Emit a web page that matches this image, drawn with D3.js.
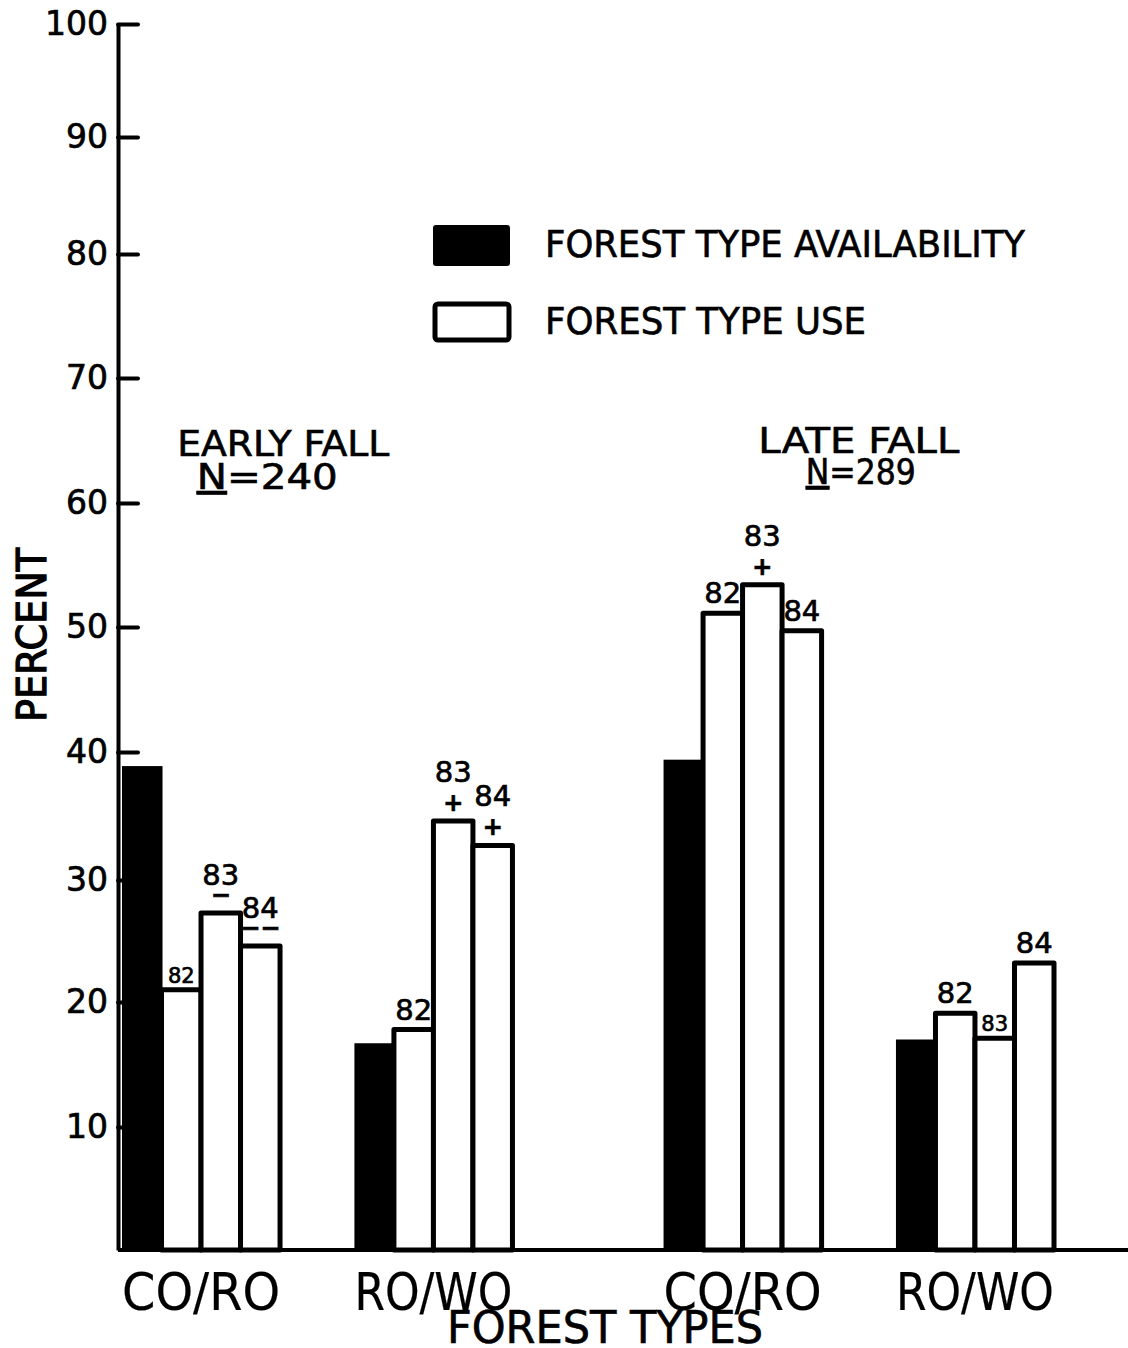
<!DOCTYPE html>
<html>
<head>
<meta charset="utf-8">
<script src="https://cdn.jsdelivr.net/npm/d3@7"></script>
<style>
  body { margin: 0; background: #fff; }
  svg { display: block; background: #fff; }
  text { fill: #000; }
  .word { font-family: "DejaVu Sans Condensed", "DejaVu Sans", sans-serif; font-stretch: condensed; stroke: #000; stroke-width: 0.6px; }
  .num { font-family: "DejaVu Sans", sans-serif; stroke: #000; stroke-width: 0.7px; }
</style>
</head>
<body>
<svg id="chart" width="1128" height="1348"></svg>
<script>
// ---- data ----
const seasons = ["EARLY FALL", "LATE FALL"];
const sampleSizes = ["240", "289"];
const forestTypes = ["CO/RO", "RO/WO"];
const useYears = ["82", "83", "84"];
// availability (%) per season, per forest type
const availability = [[38.9, 16.7], [39.4, 17.0]];
// use (%) per forest type, per year
const useEarly = [[21.0, 27.3, 24.6], [17.8, 34.6, 32.7]];
const useLate = [[51.1, 53.4, 49.7], [19.1, 17.1, 23.2]];
// selection markers printed under the year labels
const signEarly = [["", "\u2212", "\u2212\u2212"], ["", "+", "+"]];
const signLate = [["", "+", ""], ["", "", ""]];
const yTickValues = [10, 20, 30, 40, 50, 60, 70, 80, 90, 100];
const legendLabels = ["FOREST TYPE AVAILABILITY", "FOREST TYPE USE"];
const xTitle = "FOREST TYPES";
const yTitle = "PERCENT";

const useBySeason = [useEarly, useLate];
const signBySeason = [signEarly, signLate];

// ---- layout ----
const svg = d3.select("#chart");
const axisX = 118;

// hand-ruled percent axis: tick marks are not evenly spaced, so the scale is
// calibrated tick by tick
const y = d3.scaleLinear()
  .domain([0, ...yTickValues])
  .range([1250, 1127, 1002, 880, 752, 627, 503, 378, 254, 137, 24]);

const xSeason = d3.scaleBand().domain(seasons).range([122, 1054]).paddingInner(0.279);
const xType = d3.scaleBand().domain(forestTypes).range([0, xSeason.bandwidth()]).paddingInner(0.32);
const seriesKeys = ["avail", ...useYears];
const xBar = d3.scaleBand().domain(seriesKeys).range([0, xType.bandwidth()]);

// ---- y axis ----
const yAxis = d3.axisLeft(y).tickValues(yTickValues).tickSize(-20).tickSizeOuter(0).tickPadding(10)
  .tickFormat(d => String(d));
const gy = svg.append("g").attr("transform", `translate(${axisX},0)`).call(yAxis);
gy.select(".domain").attr("stroke", "#000").attr("stroke-width", 4);
gy.selectAll(".tick line").attr("stroke", "#000").attr("stroke-width", 4).attr("stroke-linecap", "round");
gy.selectAll(".tick text").attr("class", "num").attr("font-size", 33).attr("fill", "#000");

// ---- bars ----
const groups = [];
seasons.forEach((s, si) => {
  forestTypes.forEach((t, ti) => {
    groups.push({ s, si, t, ti, x0: xSeason(s) + xType(t) });
  });
});

const gBars = svg.append("g");
groups.forEach(g => {
  const uses = useBySeason[g.si][g.ti];
  const signs = signBySeason[g.si][g.ti];
  const heights = [availability[g.si][g.ti], ...uses];

  // use bars: open outlined boxes
  useYears.forEach((yr, k) => {
    const v = uses[k];
    const bx = g.x0 + xBar(yr);
    gBars.append("rect")
      .attr("x", bx).attr("y", y(v))
      .attr("width", xBar.bandwidth()).attr("height", y(0) - y(v))
      .attr("fill", "#fff").attr("stroke", "#000").attr("stroke-width", 5)
      .attr("stroke-linejoin", "round");
  });

  // availability bar: solid
  const a = availability[g.si][g.ti];
  gBars.append("rect")
    .attr("x", g.x0 + xBar("avail")).attr("y", y(a))
    .attr("width", xBar.bandwidth() + 1).attr("height", y(0) - y(a))
    .attr("fill", "#000");

  // year labels and markers over the use bars
  useYears.forEach((yr, k) => {
    const v = uses[k];
    const i = k + 1;
    const top = y(v);
    const cx = g.x0 + xBar(yr) + xBar.bandwidth() / 2;
    const left = heights[i - 1];
    const right = heights[i + 1];
    const squeezed = left > v && right !== undefined && right > v;
    const sign = signs[k];

    if (sign) {
      gBars.append("text")
        .attr("class", "num")
        .attr("x", cx).attr("y", top - 18)
        .attr("text-anchor", "middle").attr("dominant-baseline", "central")
        .attr("font-size", 24).attr("font-weight", "bold")
        .text(sign);
    }
    const base = squeezed ? 7 : sign === "+" ? 39 : sign ? 28 : 10;
    gBars.append("text")
      .attr("class", "num")
      .attr("x", cx).attr("y", top - base)
      .attr("text-anchor", "middle")
      .attr("font-size", squeezed ? 21 : 29)
      .text(yr);
  });

  // forest type label
  svg.append("text")
    .attr("class", "word")
    .attr("x", g.x0 + xType.bandwidth() / 2).attr("y", 1310)
    .attr("text-anchor", "middle")
    .attr("font-size", 52)
    .attr("textLength", 158).attr("lengthAdjust", "spacingAndGlyphs")
    .style("stroke-width", "0.2px")
    .text(g.t);
});

// ---- x baseline ----
svg.append("line")
  .attr("x1", axisX).attr("x2", 1128)
  .attr("y1", y(0)).attr("y2", y(0))
  .attr("stroke", "#000").attr("stroke-width", 4);

// ---- axis titles ----
svg.append("text")
  .attr("class", "word")
  .attr("x", 605).attr("y", 1343)
  .attr("text-anchor", "middle")
  .attr("font-size", 44)
  .attr("textLength", 316).attr("lengthAdjust", "spacingAndGlyphs")
  .text(xTitle);

svg.append("text")
  .attr("class", "word")
  .attr("transform", "translate(46,635) rotate(-90)")
  .attr("text-anchor", "middle")
  .attr("font-size", 41)
  .attr("textLength", 174).attr("lengthAdjust", "spacingAndGlyphs")
  .style("stroke-width", "1.2px")
  .text(yTitle);

// ---- season headings ----
const headingWidths = [212, 201];
const countWidths = [141, 110];
const countShift = [-16, 2];
seasons.forEach((s, si) => {
  const cx = xSeason(s) + xSeason.bandwidth() / 2 + (si === 0 ? -34 : 0);
  svg.append("text")
    .attr("class", "word")
    .attr("x", cx).attr("y", si === 0 ? 456 : 453)
    .attr("text-anchor", "middle")
    .attr("font-size", 36)
    .attr("textLength", headingWidths[si]).attr("lengthAdjust", "spacingAndGlyphs")
    .text(s);
  const n = svg.append("text")
    .attr("class", "word")
    .attr("x", cx + countShift[si]).attr("y", si === 0 ? 489 : 484)
    .attr("text-anchor", "middle")
    .attr("font-size", 36)
    .attr("textLength", countWidths[si]).attr("lengthAdjust", "spacingAndGlyphs");
  n.append("tspan").attr("text-decoration", "underline").text("N");
  n.append("tspan").text("=" + sampleSizes[si]);
});

// ---- legend ----
const legend = svg.append("g").attr("transform", "translate(433,225)");
legend.append("rect")
  .attr("x", 0).attr("y", 0).attr("width", 77).attr("height", 41)
  .attr("rx", 3).attr("fill", "#000");
legend.append("rect")
  .attr("x", 2).attr("y", 79).attr("width", 74).attr("height", 36)
  .attr("rx", 3).attr("fill", "#fff").attr("stroke", "#000").attr("stroke-width", 5);
legend.append("text")
  .attr("class", "word")
  .attr("x", 112).attr("y", 32)
  .attr("font-size", 38)
  .attr("textLength", 480).attr("lengthAdjust", "spacingAndGlyphs")
  .text(legendLabels[0]);
legend.append("text")
  .attr("class", "word")
  .attr("x", 112).attr("y", 109)
  .attr("font-size", 38)
  .attr("textLength", 321).attr("lengthAdjust", "spacingAndGlyphs")
  .text(legendLabels[1]);
</script>
</body>
</html>
